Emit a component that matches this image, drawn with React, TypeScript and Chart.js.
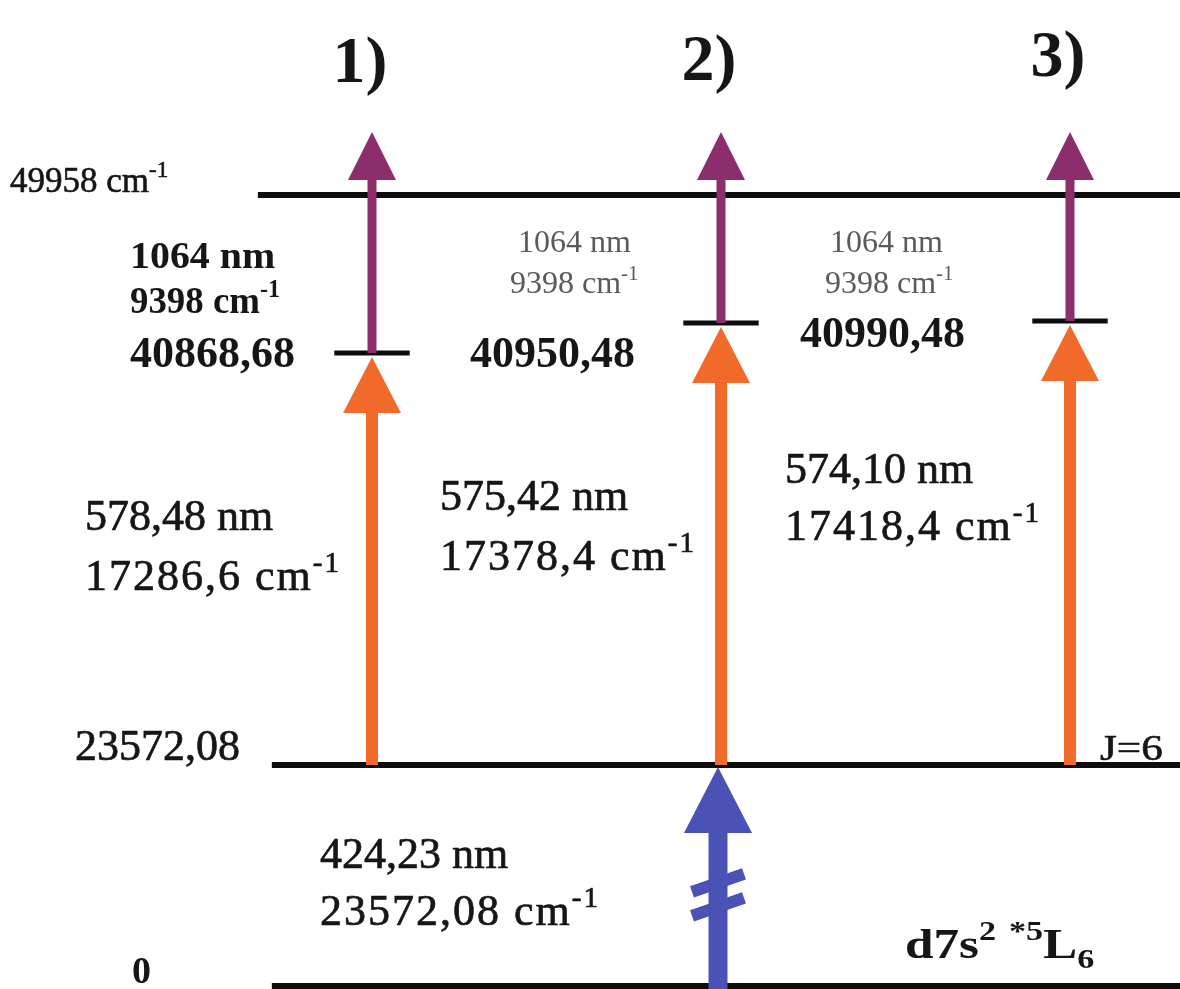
import { useEffect, useRef } from 'react';
import { Chart, registerables, LinearScale } from 'chart.js';

// ---- Level energies (cm-1) and transitions ----
const COLUMN_TITLES = ['1)', '2)', '3)'];
const COLUMN_POS = [1, 2, 3];
const GROUND_LEVEL = 0;
const FIRST_LEVEL = 23572.08;
const FIRST_NM = 424.23;
const SECOND_NM = [578.48, 575.42, 574.1];
const SECOND_CM = [17286.6, 17378.4, 17418.4];
const SECOND_LEVEL = [40868.68, 40950.48, 40990.48];
const THIRD_NM = [1064, 1064, 1064];
const THIRD_CM = [9398, 9398, 9398];
const IONIZATION_LIMIT = 49958;
const GROUND_TERM = 'd7s2 *5L6';
const FIRST_LEVEL_J = 'J=6';

// broken energy axis: each stop maps an energy to a fraction of the plot height (from top)
const AXIS_STOPS: [number, number][] = [
  [GROUND_LEVEL, 0.99697],
  [FIRST_LEVEL, 0.77351],
  [SECOND_LEVEL[0], 0.35693],
  [SECOND_LEVEL[1], 0.32659],
  [SECOND_LEVEL[2], 0.32457],
  [IONIZATION_LIMIT, 0.19717],
];

const COLORS = {
  level: '#0d0d0d',
  ion: '#8c2d6c',
  dye: '#f26a2a',
  pump: '#4a52b5',
  text: '#161616',
  soft: '#5a5a5a',
};

const fmt = (v: number, d: number) => v.toFixed(d).replace('.', ',');

class SegmentedScale extends LinearScale {
  static id = 'segmented';
  static defaults = LinearScale.defaults;

  stopsPx(): [number, number][] {
    const stops: [number, number][] = (this.options as any).stops;
    const h = this.bottom - this.top;
    return stops.map(([v, f]) => [v, this.top + f * h]);
  }

  getPixelForValue(value: number) {
    const s = this.stopsPx();
    let i = 0;
    while (i < s.length - 2 && value > s[i + 1][0]) i++;
    const [v0, p0] = s[i];
    const [v1, p1] = s[i + 1];
    return p0 + ((value - v0) / (v1 - v0)) * (p1 - p0);
  }

  getValueForPixel(pixel: number) {
    const s = this.stopsPx();
    let i = 0;
    while (i < s.length - 2 && pixel < s[i + 1][1]) i++;
    const [v0, p0] = s[i];
    const [v1, p1] = s[i + 1];
    return v0 + ((pixel - p0) / (p1 - p0)) * (v1 - v0);
  }
}

Chart.register(...registerables, SegmentedScale);

type Part = [string, 'n' | 'sup' | 'sub'];
const cm = (value: string): Part[] => [[value + ' cm', 'n'], ['-1', 'sup']];

interface TextStyle {
  size: number;
  weight?: string;
  color?: string;
  align?: 'left' | 'center';
  spacing?: number;
  sx?: number;
  heavy?: number;
}

function drawRich(ctx: CanvasRenderingContext2D, x: number, y: number, parts: Part[], st: TextStyle) {
  const family = '"Liberation Serif", "Times New Roman", serif';
  const { size, weight = 'normal', color = COLORS.text, align = 'left', spacing = 0, sx = 1, heavy = 0 } = st;
  const fontFor = (mode: string) =>
    `${weight} ${mode === 'n' ? size : Math.round(size * 0.66)}px ${family}`;
  ctx.save();
  (ctx as any).letterSpacing = `${spacing}px`;
  let total = 0;
  for (const [t, m] of parts) {
    ctx.font = fontFor(m);
    total += ctx.measureText(t).width;
  }
  ctx.translate(align === 'center' ? x - (total * sx) / 2 : x, y);
  ctx.scale(sx, 1);
  ctx.fillStyle = color;
  ctx.strokeStyle = color;
  ctx.lineWidth = heavy;
  ctx.lineJoin = 'round';
  ctx.textBaseline = 'alphabetic';
  ctx.textAlign = 'left';
  let cx = 0;
  for (const [t, m] of parts) {
    ctx.font = fontFor(m);
    const dy = m === 'sup' ? -size * 0.42 : m === 'sub' ? size * 0.24 : 0;
    ctx.fillText(t, cx, dy);
    if (heavy > 0) ctx.strokeText(t, cx, dy);
    cx += ctx.measureText(t).width;
  }
  ctx.restore();
}

function drawArrow(
  ctx: CanvasRenderingContext2D,
  x: number,
  yFrom: number,
  yTip: number,
  shaft: number,
  headW: number,
  headL: number,
  color: string
) {
  ctx.save();
  ctx.fillStyle = color;
  ctx.strokeStyle = color;
  ctx.lineWidth = shaft;
  ctx.lineCap = 'butt';
  ctx.beginPath();
  ctx.moveTo(x, yFrom);
  ctx.lineTo(x, yTip + headL - 1);
  ctx.stroke();
  ctx.beginPath();
  ctx.moveTo(x, yTip);
  ctx.lineTo(x - headW / 2, yTip + headL);
  ctx.lineTo(x + headW / 2, yTip + headL);
  ctx.closePath();
  ctx.fill();
  ctx.restore();
}

const transitionsPlugin = {
  id: 'transitions',
  afterDatasetsDraw(chart: any) {
    const { ctx } = chart;
    const xs = chart.scales.x;
    const ys = chart.scales.y;
    const yFirst = ys.getPixelForValue(FIRST_LEVEL);
    const yIon = ys.getPixelForValue(IONIZATION_LIMIT);

    COLUMN_POS.forEach((c, i) => {
      const x = xs.getPixelForValue(c);
      const ySecond = ys.getPixelForValue(SECOND_LEVEL[i]);
      // dye-laser step: first level -> second level
      drawArrow(ctx, x, yFirst, ySecond + 4, 12, 58, 56, COLORS.dye);
      // 1064 nm step: second level -> above the ionization limit
      drawArrow(ctx, x, ySecond, yIon - 63, 9, 48, 48, COLORS.ion);
    });

    // resonant first step from the ground state (drawn in column 2)
    const xp = xs.getPixelForValue(COLUMN_POS[1]) - 3;
    const yG = ys.getPixelForValue(GROUND_LEVEL) + 3;
    drawArrow(ctx, xp, yG, yFirst + 2, 19, 68, 66, COLORS.pump);
    const yb = yG + (yFirst - yG) * 0.42;
    ctx.save();
    ctx.strokeStyle = COLORS.pump;
    ctx.lineWidth = 12;
    ctx.lineCap = 'butt';
    for (const off of [-12, 12]) {
      ctx.beginPath();
      ctx.moveTo(xp - 26, yb + off + 9);
      ctx.lineTo(xp + 26, yb + off - 9);
      ctx.stroke();
    }
    ctx.restore();
  },
  afterDraw(chart: any) {
    const { ctx } = chart;
    const xs = chart.scales.x;
    const soft = COLORS.soft;
    const big: TextStyle = { size: 44, heavy: 0.7 };
    const bigCm: TextStyle = { size: 44, heavy: 0.7, spacing: 2 };
    const level: TextStyle = { size: 44, weight: 'bold' };
    const grey: TextStyle = { size: 32, color: soft };

    COLUMN_TITLES.forEach((t, i) => {
      const x = xs.getPixelForValue(COLUMN_POS[i]) - 12;
      drawRich(ctx, x, [82, 80, 76][i], [[t, 'n']], { size: 66, weight: 'bold', align: 'center' });
    });

    drawRich(ctx, 10, 192, cm(String(IONIZATION_LIMIT)), { size: 35, heavy: 0.6 });

    // column 1
    drawRich(ctx, 130, 268, [[`${THIRD_NM[0]} nm`, 'n']], { size: 38, weight: 'bold', sx: 1.05 });
    drawRich(ctx, 130, 313, cm(String(THIRD_CM[0])), { size: 38, weight: 'bold', sx: 0.97 });
    drawRich(ctx, 130, 367, [[fmt(SECOND_LEVEL[0], 2), 'n']], level);
    drawRich(ctx, 85, 530, [[`${fmt(SECOND_NM[0], 2)} nm`, 'n']], big);
    drawRich(ctx, 85, 590, cm(fmt(SECOND_CM[0], 1)), bigCm);

    // column 2
    drawRich(ctx, 518, 252, [[`${THIRD_NM[1]} nm`, 'n']], grey);
    drawRich(ctx, 510, 293, cm(String(THIRD_CM[1])), grey);
    drawRich(ctx, 470, 367, [[fmt(SECOND_LEVEL[1], 2), 'n']], level);
    drawRich(ctx, 440, 510, [[`${fmt(SECOND_NM[1], 2)} nm`, 'n']], big);
    drawRich(ctx, 440, 570, cm(fmt(SECOND_CM[1], 1)), bigCm);

    // column 3
    drawRich(ctx, 830, 252, [[`${THIRD_NM[2]} nm`, 'n']], grey);
    drawRich(ctx, 825, 293, cm(String(THIRD_CM[2])), grey);
    drawRich(ctx, 800, 347, [[fmt(SECOND_LEVEL[2], 2), 'n']], level);
    drawRich(ctx, 785, 483, [[`${fmt(SECOND_NM[2], 2)} nm`, 'n']], big);
    drawRich(ctx, 785, 540, cm(fmt(SECOND_CM[2], 1)), bigCm);

    // first excited level and ground state
    drawRich(ctx, 75, 760, [[fmt(FIRST_LEVEL, 2), 'n']], big);
    drawRich(ctx, 1100, 760, [[FIRST_LEVEL_J, 'n']], { size: 36, heavy: 0.6, sx: 1.2 });
    drawRich(ctx, 320, 868, [[`${fmt(FIRST_NM, 2)} nm`, 'n']], big);
    drawRich(ctx, 320, 925, cm(fmt(FIRST_LEVEL, 2)), bigCm);
    drawRich(ctx, 132, 983, [[String(GROUND_LEVEL), 'n']], { size: 38, weight: 'bold' });
    const [cfg, term] = GROUND_TERM.split(' ');
    drawRich(
      ctx,
      905,
      958,
      [
        [cfg.slice(0, 3), 'n'],
        [cfg.slice(3), 'sup'],
        [' ', 'n'],
        [term.slice(0, 2), 'sup'],
        [term.slice(2, 3), 'n'],
        [term.slice(3), 'sub'],
      ],
      { size: 42, weight: 'bold', sx: 1.22 }
    );
  },
};

const X_MIN = -0.0659;
const X_MAX = 3.3152;

function levelLine(y: number, xStart: number, width: number) {
  return {
    data: [
      { x: xStart, y },
      { x: X_MAX, y },
    ],
    showLine: true,
    borderColor: COLORS.level,
    borderWidth: width,
    pointRadius: 0,
  };
}

function tickLine(col: number, y: number) {
  return {
    data: [
      { x: col - 0.108, y },
      { x: col + 0.108, y },
    ],
    showLine: true,
    borderColor: COLORS.level,
    borderWidth: 5,
    pointRadius: 0,
  };
}

export default function App() {
  const ref = useRef<HTMLCanvasElement | null>(null);

  useEffect(() => {
    if (!ref.current) return;
    const chart = new Chart(ref.current, {
      type: 'scatter',
      data: {
        datasets: [
          levelLine(IONIZATION_LIMIT, 0.673, 6),
          levelLine(FIRST_LEVEL, 0.713, 6),
          levelLine(GROUND_LEVEL, 0.713, 6),
          ...COLUMN_POS.map((c, i) => tickLine(c, SECOND_LEVEL[i])),
        ],
      },
      options: {
        animation: false,
        responsive: false,
        devicePixelRatio: 1,
        layout: { padding: 0 },
        plugins: {
          legend: { display: false },
          tooltip: { enabled: false },
        },
        scales: {
          x: { type: 'linear', min: X_MIN, max: X_MAX, display: false },
          y: {
            type: 'segmented',
            min: -1000,
            max: 60000,
            display: false,
            stops: AXIS_STOPS,
          } as any,
        },
      },
      plugins: [transitionsPlugin],
    });
    return () => chart.destroy();
  }, []);

  return (
    <div style={{ position: 'fixed', left: 0, top: 0, width: 1180, height: 989, background: '#fff' }}>
      <canvas ref={ref} width={1180} height={989} />
    </div>
  );
}
